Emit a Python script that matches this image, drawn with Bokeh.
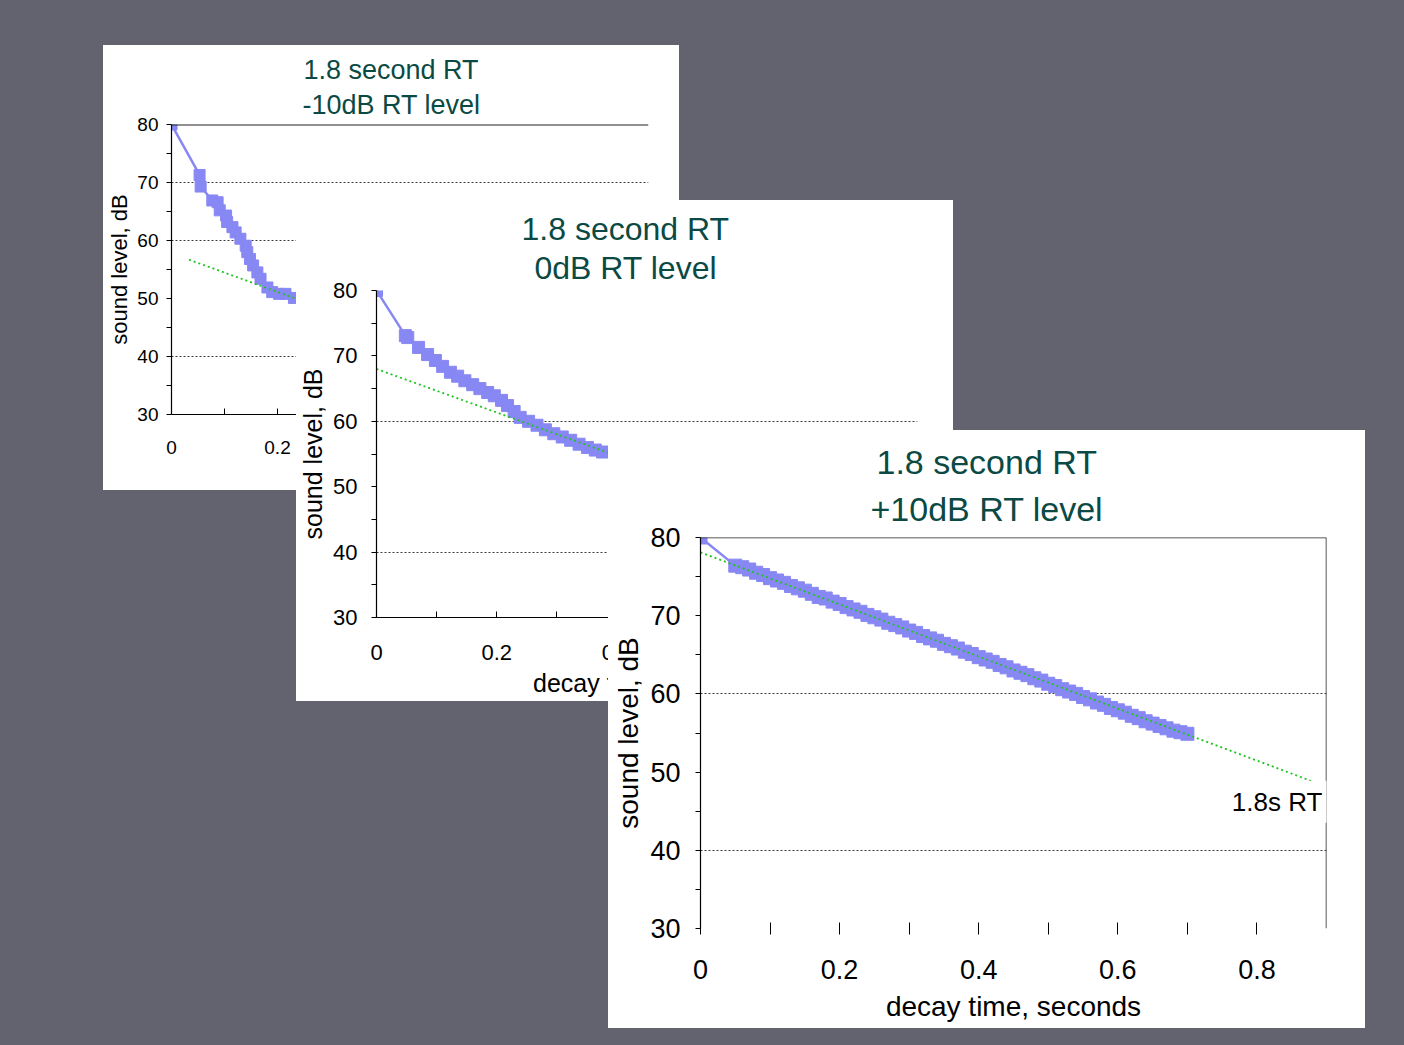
from bokeh.plotting import figure
from bokeh.models import Range1d, FixedTicker, Span, Label, Title, Div
from bokeh.embed import file_html
from bokeh.resources import INLINE

FONT = "Liberation Sans"
TITLE_COLOR = "#0b4a44"
BLUE = "#8888f4"
GREEN = "#1fc41f"
GRID = "#3a3a3a"
BG = "#63626f"

# ---------------- data ----------------
y_ticks = [30, 40, 50, 60, 70, 80]
y_tick_labels = ["30", "40", "50", "60", "70", "80"]
y_minor = [35, 45, 55, 65, 75]
x_ticks = [0, 0.2, 0.4, 0.6, 0.8]
x_tick_labels = ["0", "0.2", "0.4", "0.6", "0.8"]
x_minor = [0.1, 0.3, 0.5, 0.7]

title_line1 = ["1.8 second RT", "1.8 second RT", "1.8 second RT"]
title_line2 = ["-10dB RT level", "0dB RT level", "+10dB RT level"]
grid_levels = [[70, 60, 40], [60, 40], [60, 40]]
y_label = "sound level, dB"
x_label = "decay time, seconds"
rt_note = "1.8s RT"
rt_note_pos = (0.829, 46.2)

# -10 dB panel
p1_t = [0, 0.053, 0.055, 0.077, 0.087, 0.091, 0.103, 0.105, 0.115, 0.121, 0.130,
        0.140, 0.143, 0.148, 0.154, 0.162, 0.168, 0.181, 0.190, 0.203, 0.215, 0.231]
p1_db = [80, 71.3, 69.3, 66.9, 66.6, 65.2, 64.3, 63.2, 62.3, 61.4, 60.3,
         59.1, 58.0, 56.8, 55.7, 54.5, 53.4, 51.9, 51.1, 50.8, 50.8, 50.1]
p1_fit_t = [0.033, 0.24]
p1_fit_db = [56.7, 49.8]

# 0 dB panel
p2_t = [0, 0.048, 0.052, 0.070, 0.085, 0.098, 0.110, 0.123, 0.135, 0.147, 0.160,
        0.172, 0.185, 0.196, 0.208, 0.218, 0.229, 0.239, 0.253, 0.267, 0.281,
        0.295, 0.309, 0.323, 0.337, 0.351, 0.364, 0.376]
p2_db = [80, 73.1, 72.8, 71.3, 70.2, 69.3, 68.4, 67.5, 66.9, 66.2, 65.6,
         65.0, 64.4, 63.9, 63.2, 62.4, 61.5, 60.6, 60.0, 59.4, 58.7,
         58.1, 57.6, 57.1, 56.5, 56.0, 55.6, 55.3]
p2_fit_t = [0.0, 0.385]
p2_fit_db = [68.0, 55.2]

# +10 dB panel
p3_t = [0, 0.05, 0.06, 0.07, 0.08, 0.09, 0.10, 0.11, 0.12, 0.13, 0.14, 0.15, 0.16,
        0.17, 0.18, 0.19, 0.20, 0.21, 0.22, 0.23, 0.24, 0.25, 0.26, 0.27, 0.28,
        0.29, 0.30, 0.31, 0.32, 0.33, 0.34, 0.35, 0.36, 0.37, 0.38, 0.39, 0.40,
        0.41, 0.42, 0.43, 0.44, 0.45, 0.46, 0.47, 0.48, 0.49, 0.50, 0.51, 0.52,
        0.53, 0.54, 0.55, 0.56, 0.57, 0.58, 0.59, 0.60, 0.61, 0.62, 0.63, 0.64,
        0.65, 0.66, 0.67, 0.68, 0.69, 0.70]
p3_db = [80, 76.4, 76.2, 75.9, 75.5, 75.2, 74.8, 74.5, 74.2, 73.8, 73.5, 73.2, 72.8,
         72.4, 72.2, 71.8, 71.5, 71.1, 70.8, 70.5, 70.1, 69.8, 69.5, 69.1, 68.8,
         68.5, 68.1, 67.8, 67.4, 67.1, 66.8, 66.4, 66.1, 65.8, 65.4, 65.1, 64.7,
         64.4, 64.1, 63.7, 63.4, 63.0, 62.7, 62.4, 62.0, 61.7, 61.3, 61.0, 60.6,
         60.3, 60.0, 59.6, 59.3, 58.9, 58.6, 58.2, 57.9, 57.6, 57.2, 56.9, 56.5,
         56.2, 55.9, 55.6, 55.3, 55.1, 54.9]
p3_fit_t = [0.0, 0.88]
p3_fit_db = [78.1, 48.8]


def make_panel(idx, t, db, fit_t, fit_db, w, h, bl, br, bt, bb,
               tick_px, axis_px, title_px, title_offsets, title_standoffs, marker,
               y_std, y_lab_std, x_std, x_lab_std, tick_out, x_line=True):
    p = figure(width=w, height=h, x_range=Range1d(0, 0.9), y_range=Range1d(30, 80),
               min_border_left=bl, min_border_right=br, min_border_top=bt,
               min_border_bottom=bb, toolbar_location=None, output_backend="svg")
    p.outline_line_color = None
    p.background_fill_color = "white"
    p.border_fill_color = "white"

    xa = p.xaxis[0]
    ya = p.yaxis[0]
    xa.ticker = FixedTicker(ticks=x_ticks, minor_ticks=x_minor)
    xa.major_label_overrides = dict(zip(x_ticks, x_tick_labels))
    ya.ticker = FixedTicker(ticks=y_ticks, minor_ticks=y_minor)
    ya.major_label_overrides = dict(zip(y_ticks, y_tick_labels))
    for ax in (xa, ya):
        ax.major_label_text_font = FONT
        ax.major_label_text_font_size = f"{tick_px}px"
        ax.major_label_text_color = "black"
        ax.axis_label_text_font = FONT
        ax.axis_label_text_font_size = f"{axis_px}px"
        ax.axis_label_text_font_style = "normal"
        ax.axis_label_text_color = "black"
        ax.axis_line_color = "black"
        ax.axis_line_width = 1.2
        ax.major_tick_line_color = "black"
        ax.minor_tick_line_color = "black"
    ya.axis_label = y_label
    xa.axis_label = x_label
    ya.major_tick_out = tick_out
    ya.major_tick_in = 0
    ya.minor_tick_out = tick_out
    ya.minor_tick_in = 0
    ya.major_label_standoff = y_std
    ya.axis_label_standoff = y_lab_std
    xa.major_tick_in = 6
    xa.major_tick_out = 0 if x_line else 6
    xa.minor_tick_in = 6
    xa.minor_tick_out = 0 if x_line else 6
    xa.major_label_standoff = x_std
    xa.axis_label_standoff = x_lab_std
    if not x_line:
        xa.axis_line_color = None

    p.xgrid.visible = False
    p.ygrid.ticker = FixedTicker(ticks=grid_levels[idx])
    p.ygrid.grid_line_color = GRID
    p.ygrid.grid_line_dash = "2 2"
    p.ygrid.grid_line_width = 1

    p.line(t, db, line_color=BLUE, line_width=2.5)
    p.scatter(t, db, marker="square", size=marker, fill_color=BLUE, line_color=BLUE)
    p.line(fit_t, fit_db, line_color=GREEN, line_width=1.8, line_dash="2 3")

    # the nearest title to the frame is added first
    for text, off, so in ((title_line2[idx], title_offsets[1], title_standoffs[1]),
                          (title_line1[idx], title_offsets[0], title_standoffs[0])):
        p.add_layout(Title(text=text, align="left", offset=off, standoff=so,
                           text_font=FONT, text_font_size=f"{title_px}px",
                           text_font_style="normal", text_color=TITLE_COLOR), "above")
    return p


p1 = make_panel(0, p1_t, p1_db, p1_fit_t, p1_fit_db, 576, 445, 68, 31, 79, 76,
                19, 22, 27, (132, 131), (-3, 9), 11, 8, 2, 26, 2, 5)
p1.add_layout(Span(location=80, dimension="width", line_color="#222222", line_width=2))

p2 = make_panel(1, p2_t, p2_db, p2_fit_t, p2_fit_db, 657, 501, 79, 36, 90, 84,
                22, 25, 32, (145, 158), (-8, 10), 12, 14, 3, 27, 6, 5)

p3 = make_panel(2, p3_t, p3_db, p3_fit_t, p3_fit_db, 757, 598, 92, 39, 107, 100,
                27, 28, 34, (176, 170), (-5, 19), 13, 15, 3, 25, 9, 5, x_line=False)
p3.add_layout(Span(location=80, dimension="width", line_color="#222222", line_width=1.5))
p3.add_layout(Span(location=0.9, dimension="height", line_color="#222222", line_width=1.5))
p3.add_layout(Label(x=rt_note_pos[0], y=rt_note_pos[1], text=rt_note, text_align="center",
                    text_baseline="middle", text_font=FONT, text_font_size="26px",
                    text_color="black", background_fill_color="white", padding=6))

bg = Div(text="", width=1404, height=1045, margin=0,
         styles={"position": "absolute", "left": "0px", "top": "0px",
                 "background-color": BG})
p1.styles = {"position": "absolute", "left": "103px", "top": "45px", "background-color": "white"}
p2.styles = {"position": "absolute", "left": "296px", "top": "200px", "background-color": "white"}
p3.styles = {"position": "absolute", "left": "608px", "top": "430px", "background-color": "white"}

open("out.html", "w").write(file_html([bg, p1, p2, p3], INLINE))
